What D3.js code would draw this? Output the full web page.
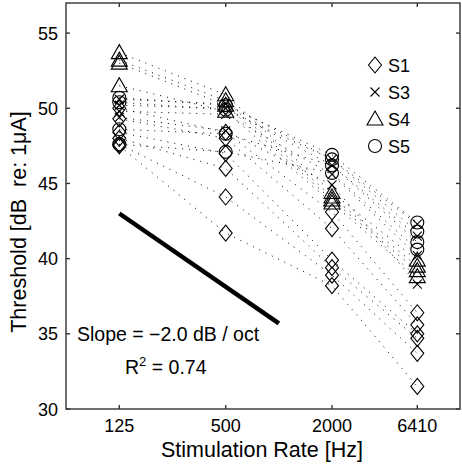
<!DOCTYPE html>
<html><head><meta charset="utf-8">
<script src="https://cdn.jsdelivr.net/npm/d3@7/dist/d3.min.js"></script>
<style>body{margin:0;background:#fff}svg{display:block}text{font-family:"Liberation Sans",Arial,sans-serif;fill:#000}</style>
</head><body><svg id="c" width="462" height="467"></svg>
<script>
const rates = [125, 500, 2000, 6410];
const rateLabels = ["125", "500", "2000", "6410"];
const yTicks = [30, 35, 40, 45, 50, 55];
const subjects = ["S1", "S3", "S4", "S5"];
// thresholds per electrode (dB re 1 uA) at 125, 500, 2000, 6410 Hz
const S1 = [[50.0,48.4,43.1,36.4],[49.3,48.0,42.0,35.6],[48.4,47.0,39.9,35.0],[48.0,46.0,39.4,34.7],[47.6,44.1,38.9,33.7],[47.5,41.7,38.2,31.5]];
const S3 = [[50.6,50.3,46.6,42.3],[50.2,50.0,46.2,41.5],[49.8,49.6,45.6,40.2],[49.4,48.5,44.9,38.3]];
const S4 = [[53.7,50.9,44.4,39.9],[53.2,50.5,44.1,39.5],[53.0,50.2,43.9,39.2],[51.5,49.8,43.7,38.8]];
const S5 = [[50.7,50.2,46.9,42.4],[50.4,49.9,46.6,41.8],[48.6,48.3,46.2,41.1],[47.6,47.1,45.7,40.6]];
const fitX = [125, 1000];
const fitY = [43.0, 35.7];

const svg = d3.select("#c");
const L = 66, R = 460, T = 3, B = 409;
const x = d3.scaleLog().domain([62.5, 125, 500, 2000, 6410, 11500]).range([L, 119.3, 225.7, 332, 417.3, R]);
const y = d3.scaleLinear().domain([30, 57]).range([B, T]);

const data = {S1, S3, S4, S5};
const g = svg.append("g");
subjects.forEach(s => {
  data[s].forEach(e => {
    g.append("path").datum(e)
      .attr("d", d3.line().x((d,i)=>x(rates[i])).y(d=>y(d)))
      .attr("fill","none").attr("stroke","#000").attr("stroke-width",1)
      .attr("stroke-dasharray","1,6");
  });
});
function marker(sel, s, cx, cy){
  let m;
  if (s==="S1") m = sel.append("path").attr("d",`M${cx},${cy-8}L${cx+6.5},${cy}L${cx},${cy+8}L${cx-6.5},${cy}Z`);
  else if (s==="S3") m = sel.append("path").attr("d",`M${cx-4.5},${cy-4.5}L${cx+4.5},${cy+4.5}M${cx-4.5},${cy+4.5}L${cx+4.5},${cy-4.5}`);
  else if (s==="S4") m = sel.append("path").attr("d",`M${cx},${cy-8}L${cx+8},${cy+6}L${cx-8},${cy+6}Z`);
  else m = sel.append("circle").attr("cx",cx).attr("cy",cy).attr("r",6.5);
  m.attr("fill","none").attr("stroke","#000").attr("stroke-width",1.1);
}
subjects.forEach(s => {
  data[s].forEach(e => e.forEach((v,i)=> marker(g, s, x(rates[i]), y(v))));
});
svg.append("line").attr("x1",x(fitX[0])).attr("y1",y(fitY[0])).attr("x2",x(fitX[1])).attr("y2",y(fitY[1]))
  .attr("stroke","#000").attr("stroke-width",4.5);

const ax = svg.append("g").attr("stroke","#333").attr("stroke-width",1.4).attr("fill","none");
ax.append("rect").attr("x",L).attr("y",T).attr("width",R-L).attr("height",B-T);
rates.forEach(r=>{
  ax.append("line").attr("x1",x(r)).attr("x2",x(r)).attr("y1",B).attr("y2",B-4);
  ax.append("line").attr("x1",x(r)).attr("x2",x(r)).attr("y1",T).attr("y2",T+4);
});
yTicks.forEach(t=>{
  ax.append("line").attr("x1",L).attr("x2",L+4).attr("y1",y(t)).attr("y2",y(t));
  ax.append("line").attr("x1",R).attr("x2",R-4).attr("y1",y(t)).attr("y2",y(t));
});
rates.forEach((r,i)=>{
  svg.append("text").attr("x",x(r)).attr("y",432).attr("text-anchor","middle").attr("font-size",18).text(rateLabels[i]);
});
yTicks.forEach(t=>{
  svg.append("text").attr("x",58).attr("y",y(t)+6.5).attr("text-anchor","end").attr("font-size",18).text(t);
});
svg.append("text").attr("x",262).attr("y",457).attr("text-anchor","middle").attr("font-size",21.5).text("Stimulation Rate [Hz]");
svg.append("text").attr("transform",`translate(26,222) rotate(-90)`).attr("text-anchor","middle").attr("font-size",21.5)
  .style("white-space","pre").text("Threshold [dB  re: 1\u03BCA]");

subjects.forEach((s,i)=>{
  const ly = 65 + i*27;
  marker(svg, s, 375, ly);
  svg.append("text").attr("x",388).attr("y",ly+6.5).attr("font-size",18).text(s);
});
svg.append("text").attr("x",77).attr("y",341).attr("font-size",19.5).text("Slope = \u22122.0 dB / oct");
const r2 = svg.append("text").attr("x",125).attr("y",374).attr("font-size",19.5);
r2.append("tspan").text("R");
r2.append("tspan").attr("dy",-8).attr("font-size",13).text("2");
r2.append("tspan").attr("dy",8).text(" = 0.74");
</script></body></html>
